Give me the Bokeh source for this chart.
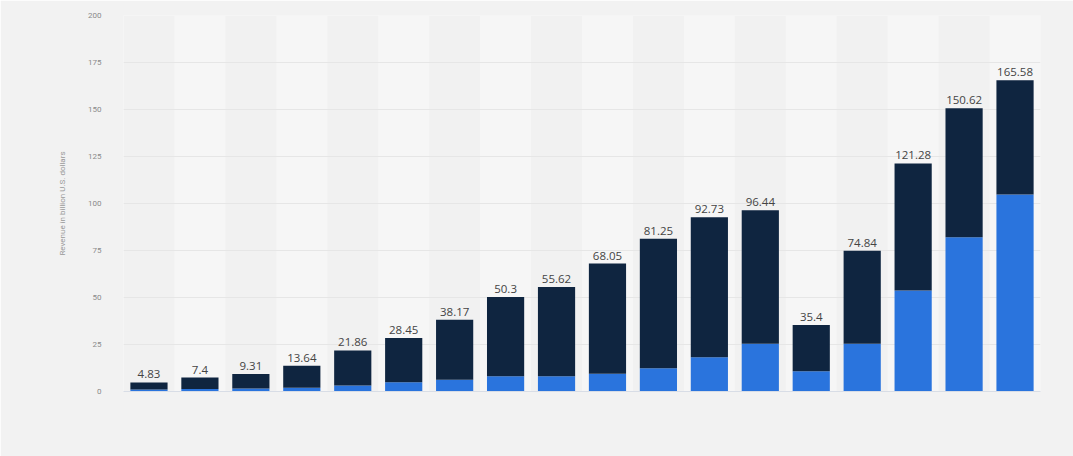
from bokeh.plotting import figure
from bokeh.embed import file_html
from bokeh.resources import INLINE
from bokeh.models import ColumnDataSource, FixedTicker, Range1d, FactorRange
from bokeh.core.properties import value

categories = [str(y) for y in range(2007, 2025)]
totals = [4.83, 7.4, 9.31, 13.64, 21.86, 28.45, 38.17, 50.3, 55.62, 68.05,
          81.25, 92.73, 96.44, 35.4, 74.84, 121.28, 150.62, 165.58]
blue_part = [1.0, 1.3, 1.6, 2.0, 3.2, 4.9, 6.2, 8.1, 8.1, 9.4,
             12.4, 18.2, 25.4, 10.8, 25.4, 53.7, 82.1, 104.8]
dark_part = [round(t - b, 2) for t, b in zip(totals, blue_part)]
labels = [f"{t:g}" for t in totals]
y_ticks = [0, 25, 50, 75, 100, 125, 150, 175, 200]
y_title = "Revenue in billion U.S. dollars"

DARK = "#0f2540"
BLUE = "#2a74dd"

src = ColumnDataSource(dict(cat=categories, blue=blue_part, dark=dark_part,
                            total=totals, label=labels))

p = figure(x_range=FactorRange(*categories, range_padding=0),
           y_range=Range1d(0, 200),
           width=1073, height=456, output_backend="svg", toolbar_location=None,
           min_border_left=123, min_border_right=33, min_border_top=15,
           min_border_bottom=65)
p.background_fill_color = "#f1f1f1"
p.border_fill_color = "#f2f2f2"
p.outline_line_color = None

# alternating column bands
band_cats = categories[1::2]
band = p.vbar(x=band_cats, top=[200] * len(band_cats), bottom=0, width=1.0,
              fill_color="#f6f6f6", line_color=None)
band.level = "image"

p.vbar_stack(["blue", "dark"], x="cat", width=0.73, source=src,
             fill_color=[BLUE, DARK], line_color=None)

p.text(x="cat", y="total", text="label", source=src, y_offset=-4,
       text_align="center", text_baseline="bottom", text_color="#444444",
       text_font=value("Open Sans"), text_font_size="11.5px")

p.xgrid.grid_line_color = None
p.ygrid.grid_line_color = "#e6e6e6"
p.ygrid.ticker = FixedTicker(ticks=y_ticks)

p.yaxis.ticker = FixedTicker(ticks=y_ticks)
p.yaxis.axis_line_color = None
p.yaxis.major_tick_line_color = None
p.yaxis.minor_tick_line_color = None
p.yaxis.major_label_text_color = "#8a8a8a"
p.yaxis.major_label_text_font = "Roboto"
p.yaxis.major_label_text_font_size = "8px"
p.yaxis.major_label_standoff = 16
p.yaxis.axis_label = y_title
p.yaxis.axis_label_text_color = "#999999"
p.yaxis.axis_label_text_font = "Roboto"
p.yaxis.axis_label_text_font_style = "normal"
p.yaxis.axis_label_text_font_size = "8px"
p.yaxis.axis_label_standoff = 18

p.xaxis.axis_line_color = "#d8dde6"
p.xaxis.major_tick_line_color = None
p.xaxis.minor_tick_line_color = None
p.xaxis.major_label_text_alpha = 0
p.xaxis.major_label_text_font_size = "8px"

open("out.html", "w").write(file_html(p, INLINE))
